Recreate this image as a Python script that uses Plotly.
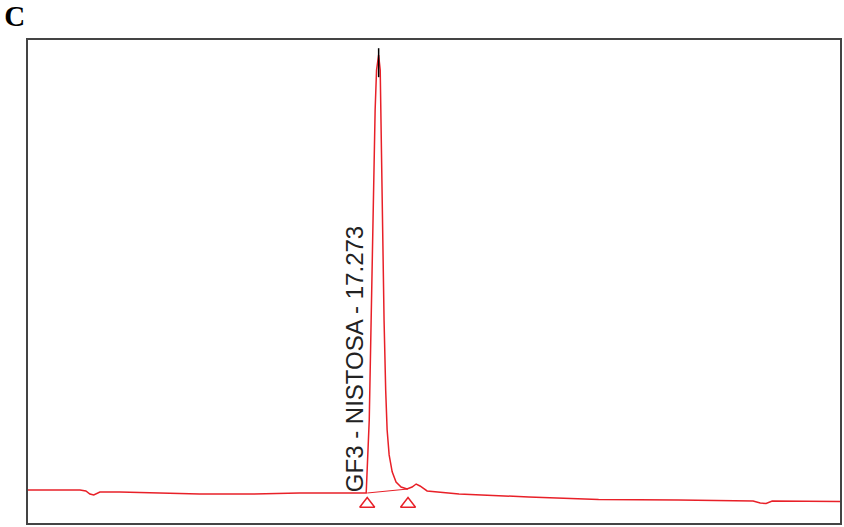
import plotly.graph_objects as go

# chromatogram trace (retention time in min, detector signal)
time_min = [0.00, 1.57, 2.56, 2.85, 3.05, 3.24, 3.54, 4.52, 6.00, 8.45, 10.91, 13.37,
            15.33, 16.31, 16.66, 16.81, 16.90, 17.00, 17.10, 17.17, 17.273, 17.35,
            17.40, 17.47, 17.54, 17.62, 17.69, 17.79, 17.94, 18.13, 18.38, 18.67,
            18.92, 19.12, 19.31, 19.66, 20.25, 21.23, 24.67, 28.11, 32.04, 35.72,
            36.07, 36.36, 36.66, 40.00]
signal = [6.83, 6.83, 6.83, 6.63, 6.00, 5.80, 6.42, 6.42, 6.21, 6.00, 6.00, 6.21,
          6.21, 6.21, 6.21, 21.3, 42.0, 66.9, 85.5, 93.8, 96.9, 93.8,
          79.3, 60.7, 42.0, 27.5, 19.3, 14.1, 10.6, 8.49, 7.45, 7.04,
          7.45, 8.07, 7.66, 6.63, 6.42, 6.00, 5.38, 4.87, 4.76, 4.55,
          4.14, 4.04, 4.55, 4.45]

# peak integration: start / end markers and the drawn baseline
peak_bounds_t = [16.71, 18.72]
peak_bounds_v = [3.93, 3.93]
base_t = [16.71, 18.72]
base_v = [6.21, 7.04]

apex_t = [17.273, 17.273]
apex_v = [98.3, 92.3]

peak_label = "GF3 - NISTOSA - 17.273"
peak_rt = 17.273

red = "rgb(232,32,40)"

fig = go.Figure()
fig.add_trace(go.Scatter(x=time_min, y=signal, mode="lines",
                         line=dict(color=red, width=1.5), hoverinfo="skip"))
fig.add_trace(go.Scatter(x=base_t, y=base_v, mode="lines",
                         line=dict(color=red, width=1), hoverinfo="skip"))
fig.add_trace(go.Scatter(x=apex_t, y=apex_v, mode="lines",
                         line=dict(color="black", width=1.5), hoverinfo="skip"))
fig.add_trace(go.Scatter(x=peak_bounds_t, y=peak_bounds_v, mode="markers",
                         marker=dict(symbol="triangle-up-open", size=13,
                                     color=red, line=dict(width=1.5)),
                         hoverinfo="skip"))

fig.add_annotation(x=peak_rt, y=6.0, xref="x", yref="y", text=peak_label,
                   textangle=-90, showarrow=False, xanchor="right",
                   yanchor="bottom", xshift=-9,
                   font=dict(family="Liberation Sans", size=24, color="#222"))

axis_style = dict(showline=True, linecolor="#444", linewidth=2, mirror=True,
                  showgrid=False, zeroline=False, showticklabels=False, ticks="")

fig.update_layout(
    width=844, height=527,
    margin=dict(l=28, r=2, t=40, b=4),
    paper_bgcolor="white", plot_bgcolor="white",
    showlegend=False,
    title=dict(text="<b>C</b>", x=0.005, xanchor="left", xref="container",
               y=0.99, yanchor="top",
               font=dict(family="Liberation Serif", size=29, color="black")),
    xaxis=dict(range=[0, 40], **axis_style),
    yaxis=dict(range=[0, 100], **axis_style),
)

fig.write_html("out.html", config={"displayModeBar": False},
               post_script="document.body.style.margin='0';")
